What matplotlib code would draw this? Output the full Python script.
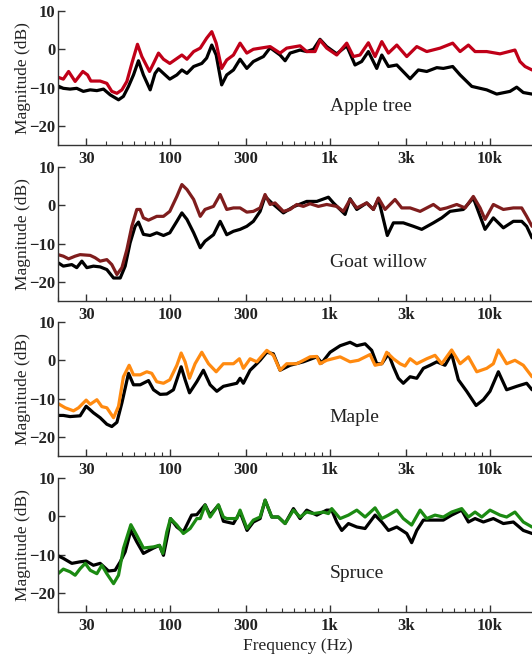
import matplotlib
matplotlib.use("Agg")
import matplotlib.pyplot as plt
from matplotlib.ticker import FixedLocator, LogLocator, NullFormatter

plt.rcParams["font.family"] = ["Liberation Serif", "DejaVu Serif"]

# --- Apple tree ---
apple_f = [20, 21.6, 23.3, 25.6, 28.6, 30.6, 32.1, 36.7, 40.4, 43.4, 46.7, 50.2, 53.9, 57.9,
           62.8, 66.9, 74.7, 79.1, 85, 91.3, 100, 119, 128, 141, 155, 170, 183, 195, 211,
           227, 250, 275, 303, 333, 424, 489, 538, 652, 718, 809, 869, 957, 1106, 1277,
           1406, 1546, 1744, 1920, 2115, 2328, 2625, 3030, 3500, 4040, 4900, 5870, 6530,
           7360, 8100, 9580, 11600, 14380, 15460, 16630, 18390, 20000]
apple_db = [-7.3, -7.8, -5.8, -8.4, -5.8, -6.7, -8.3, -8.3, -8.9, -11.0, -11.5, -10.6, -8.4, -3.7,
            1.3, -1.9, -5.8, -3.7, -1.0, -2.6, -3.7, -1.5, -2.6, -0.6, 0.3, 2.9, 4.6, 1.6, -5.0,
            -2.8, -1.5, 1.6, -1.0, 0.0, 0.7, -1.0, 0.3, 0.9, -0.6, -0.6, 2.4, 0.3, -1.5, 1.6,
            -1.9, -1.5, 1.7, -1.9, 2.0, -1.0, 1.1, -1.9, 0.7, -0.6, 0.3, 1.6, -0.6,
            1.1, -0.6, -0.6, -1.2, -0.2, -3.2, -4.5, -5.4, -5.5]
apple_ref_f = [20, 21.6, 23.8, 26.2, 28.8, 31.8, 35, 38.5, 42.4, 47.8, 51.3, 55.2, 59.3, 63.7,
               68.4, 75.4, 80.9, 85, 93.5, 100, 110.7, 119, 128, 141, 158.5, 170, 183, 195,
               211, 227, 250, 275, 303, 333, 385, 424, 489, 526, 565, 652, 718, 791, 869, 957,
               1106, 1277, 1439, 1583, 1744, 1967, 2115, 2328, 2625, 3180, 3580, 4040, 4670,
               5130, 5870, 6530, 7730, 9580, 11060, 13390, 14750, 16220, 18390, 20000]
apple_ref_db = [-9.6, -10.2, -10.4, -10.2, -11.0, -10.6, -10.8, -10.4, -11.9, -13.2, -12.3, -9.7, -6.7, -3.0,
                -6.7, -10.6, -6.3, -5.1, -6.7, -7.8, -6.7, -5.4, -6.3, -4.5, -3.7, -2.3, 1.1, -1.5,
                -9.3, -6.7, -5.4, -2.6, -5.0, -3.2, -1.9, 0.4, -1.5, -3.0, -1.0, -0.2, -0.6, 0.0, 2.6, 0.7,
                -1.2, 0.9, -4.1, -3.2, -0.6, -5.0, -1.5, -4.5, -4.1, -7.7, -5.4, -5.8, -4.8,
                -5.0, -4.5, -6.7, -9.7, -10.6, -11.7, -11.0, -9.9, -11.3, -11.7, -11.8]

# --- Goat willow ---
willow_f = [20, 21.6, 23.3, 25.6, 27.5, 31.8, 34.1, 36.7, 40.4, 43.4, 46.7, 50.2, 53.9, 57.9,
            62.2, 65.2, 68.4, 73.6, 82.9, 91.3, 100, 110.7, 119, 128, 141, 155, 166, 187.6,
            206.5, 227, 250, 275, 303, 333, 367, 394, 424, 455, 513, 565, 622, 684, 753, 849,
            957, 1106, 1217, 1340, 1476, 1702, 1875, 2015, 2218, 2559, 2818, 3180, 3673, 4446,
            4900, 5383, 6222, 7015, 7900, 8710, 9350, 10540, 12170, 14060, 15850, 17020, 18390, 20000]
willow_db = [-12.9, -13.3, -14.0, -13.3, -12.9, -13.1, -13.7, -14.6, -14.2, -15.5, -18.1, -16.3, -11.6, -5.5,
             -1.1, -1.1, -3.3, -3.9, -2.9, -2.9, -1.6, 2.3, 5.4, 4.1, 1.5, -2.9, -1.1, -0.3,
             2.8, -1.1, -0.7, -0.7, -1.8, -1.6, -0.7, 2.8, 0.2, 0.6, -1.6, -1.1, 0.2, -0.3, 0.4, -0.3,
             0.2, -0.3, -1.6, 1.5, -0.7, 0.6, -1.1, 1.9, -1.1, 1.5, -0.7, -0.7, -1.6, 0.2,
             -1.1, -0.7, 0.2, -0.7, 2.3, -0.7, -3.7, 0.2, -1.1, -0.7, -0.7, -2.9, -5.5, -6.0]
willow_ref_f = [20, 21.6, 24.4, 26.2, 28.2, 30.3, 33.3, 36.7, 40.4, 44.5, 49, 52.6, 56.5, 60.7,
                63.7, 68.4, 75.3, 82.9, 91.3, 100, 110.7, 119, 128, 141, 155, 166, 187.6, 206.5,
                227, 250, 275, 303, 333, 367, 394, 434, 513, 593, 718, 830, 981, 1054, 1247,
                1340, 1476, 1702, 1875, 2015, 2290, 2500, 2884, 3334, 3758, 4446, 5013, 5650,
                6842, 7900, 9350, 10540, 12170, 14060, 15850, 17020, 18390, 20000]
willow_ref_db = [-15.0, -15.9, -15.5, -16.3, -14.6, -16.3, -15.9, -16.1, -16.8, -19.0, -19.0, -15.9, -9.8, -5.5,
                 -4.4, -7.6, -7.9, -7.2, -7.9, -7.2, -4.2, -2.0, -3.7, -7.2, -11.1, -9.4, -7.7, -4.2,
                 -7.7, -6.8, -6.3, -5.5, -4.2, -1.6, 2.3, 0.6, -2.0, -0.4, 1.0, 1.0, 2.1, 0.6, -2.4,
                 1.7, -1.1, 0.6, -1.1, 1.7, -7.9, -4.6, -4.6, -5.5, -6.3, -4.6, -3.3, -1.6,
                 -1.1, 1.9, -6.3, -3.3, -5.9, -4.2, -4.2, -5.5, -8.5, -9.0]

# --- Maple ---
maple_f = [20, 22.2, 25, 26.9, 30, 31.8, 35, 37.6, 40.4, 44.5, 47.8, 51.3, 55.7, 59.3, 65.3,
           71.8, 77.1, 82.9, 91.3, 100, 110.7, 117.8, 124.7, 132.8, 143.9, 158.5, 174.6, 195,
           216.3, 250, 272.3, 288.4, 317.7, 349.9, 404, 444, 489, 538, 622, 753, 830, 869,
           957, 1161, 1340, 1511, 1786, 1920, 2115, 2270, 2500, 2752, 2956, 3180, 3500, 4040,
           4550, 5013, 5782, 6530, 7360, 8300, 9580, 10540, 11330, 12760, 14380, 16220, 18390, 20000]
maple_db = [-11.3, -12.4, -13.2, -12.4, -10.4, -11.5, -10.3, -12.1, -12.4, -15.0, -12.0, -4.3, -1.3, -3.8, -3.8,
            -3.0, -3.4, -5.6, -6.0, -5.1, -1.3, 1.9, -0.4, -4.7, -0.9, 2.1, -0.9, -3.0,
            -0.9, -0.9, 0.4, -2.1, 0.4, -0.4, 2.6, 1.3, -2.6, -0.9, -0.9, 0.9, 1.0, -0.9,
            0.0, 0.9, -0.4, 0.0, 1.5, -1.3, -0.9, 2.1, 0.4, -0.9, -1.5, 0.4, -0.9, 0.4,
            1.3, -0.9, 2.7, -0.9, 0.9, -3.0, -2.1, -0.9, 2.7, -0.9, 0.0, -1.3, -4.3, -4.6]
maple_ref_f = [20, 21.6, 23.8, 27.5, 30, 33.3, 36.7, 40.4, 43.4, 46.7, 50.2, 55.2, 59.3, 65.3,
               73.6, 79.1, 87, 95.8, 105.4, 117.8, 124.7, 132.8, 147.5, 162.2, 178.7, 196.8,
               216.3, 238.2, 262.4, 275, 288.4, 317.7, 349.9, 367, 404, 444, 489, 565, 684, 830,
               891, 1005, 1161, 1340, 1476, 1663, 1829, 1967, 2115, 2328, 2500, 2687, 2884,
               3180, 3500, 3848, 4236, 4670, 5256, 5782, 6370, 7180, 8220, 9130, 10040, 11330,
               12760, 14750, 17020, 18390, 20000]
maple_ref_db = [-14.4, -14.4, -14.7, -14.5, -12.0, -13.7, -15.0, -16.7, -17.3, -16.2, -11.1, -3.4, -6.4, -6.4,
                -5.3, -7.7, -8.9, -8.8, -7.7, -1.7, -5.1, -8.5, -5.6, -2.6, -6.4, -8.1,
                -6.8, -6.4, -6.0, -4.7, -6.0, -2.6, -0.9, 0.0, 2.1, 1.7, -2.6, -1.3, -0.4, 0.9,
                -0.7, 2.1, 3.8, 4.7, 3.8, 4.3, 2.6, -0.9, -0.9, 1.7, -1.7, -4.7, -6.0,
                -4.3, -4.7, -2.1, -1.3, -0.4, -1.3, 1.7, -5.1, -8.1, -11.8, -10.3, -8.1, -3.0,
                -7.7, -6.8, -6.0, -7.7, -8.0]

# --- Spruce ---
spruce_f = [20, 21.6, 23.8, 25.6, 27.5, 29.6, 31.8, 35, 37.6, 40.4, 44.5, 47.8, 51.3, 57.1,
            62.2, 68.4, 79.1, 86.1, 90.4, 95.8, 101, 110.7, 121.6, 134, 147.5, 155, 166.3,
            178.7, 201.4, 216.3, 227, 262.4, 275, 304, 333, 367, 394.5, 434, 477, 526, 593,
            652, 718, 791, 912, 981, 1029, 1161, 1309, 1476, 1663, 1920, 2115, 2328, 2625,
            2884, 3251, 3673, 4040, 4550, 5130, 5782, 6683, 7360, 8100, 8920, 10040, 11600,
            12760, 14380, 16220, 18390, 20000]
spruce_db = [-15.0, -13.8, -14.5, -15.4, -13.7, -12.3, -14.1, -15.0, -12.8, -15.0, -17.6, -15.4, -8.4, -2.2,
             -5.0, -8.3, -8.0, -7.6, -9.7, -4.1, -0.6, -2.3, -4.5, -3.2, -0.6, -0.6, 2.9,
             -0.2, 3.0, -0.2, -0.6, -0.6, 1.6, -3.2, -1.0, -0.2, 4.2, -0.2, -0.2, -1.9, 1.6,
             -0.2, 1.1, 0.7, 1.1, 0.7, 2.0, -0.6, 0.3, 1.6, -0.2, 2.2, -0.6, 0.3, 1.6,
             -0.6, -2.3, 1.6, -0.6, 0.3, -0.2, 1.1, 2.0, -0.2, 1.1, -0.2, 1.6, 0.3,
             -0.2, 1.1, -1.5, -2.8, -3.0]
spruce_ref_f = [20, 21.6, 24.4, 27.5, 30, 33.3, 36.7, 41.4, 45.5, 49, 52.6, 57.1, 62.2, 68.4,
                79.1, 86.1, 91.3, 98.2, 101, 110.7, 121.6, 137, 147.5, 166.3, 178.7, 201.4,
                216.3, 250, 275, 304, 333, 367, 394.5, 434, 477, 526, 593, 652, 718, 830, 957,
                1029, 1106, 1189, 1309, 1476, 1663, 1920, 2115, 2328, 2625, 3030, 3251, 3500,
                3848, 4446, 5130, 5782, 6683, 7360, 8100, 9130, 10540, 12170, 14060, 16220,
                18390, 20000]
spruce_ref_db = [-10.3, -11.0, -12.3, -11.9, -11.7, -12.8, -12.3, -14.3, -14.1, -11.9, -9.3, -3.7, -6.7, -9.7,
                 -8.3, -7.6, -10.2, -3.7, -0.6, -2.8, -4.1, 0.3, 0.4, 3.0, 0.3, 2.9,
                 -1.3, -1.9, 1.1, -3.7, -1.5, -0.6, 4.2, -0.2, -0.2, -1.9, 2.0, -0.6, 1.6, 0.3, 1.6,
                 1.6, -1.5, -3.7, -1.9, -2.8, -3.2, 0.3, -1.5, -3.7, -2.8, -4.5, -6.9, -3.7,
                 -1.0, -1.0, -1.0, 0.3, 1.6, -1.5, -0.6, -1.5, -0.6, -1.9, -1.5, -3.7,
                 -4.5, -4.6]

names = ["Apple tree", "Goat willow", "Maple", "Spruce"]
colors = ["#c00018", "#7f1d1d", "#ff8a10", "#1b8a12"]
xticks = [30, 100, 300, 1000, 3000, 10000]
xticklabels = ["30", "100", "300", "1k", "3k", "10k"]
yticks = [-20, -10, 0, 10]

series = [(apple_ref_f, apple_ref_db, apple_f, apple_db),
          (willow_ref_f, willow_ref_db, willow_f, willow_db),
          (maple_ref_f, maple_ref_db, maple_f, maple_db),
          (spruce_ref_f, spruce_ref_db, spruce_f, spruce_db)]

fig = plt.figure(figsize=(5.32, 6.57), dpi=100)
bottoms = [0.7793, 0.5419, 0.3059, 0.0685]
txt = "#222222"

for i, (rf, rd, f, d) in enumerate(series):
    ax = fig.add_axes([0.109, bottoms[i], 0.902, 0.204])
    ax.plot(rf, rd, color="black", lw=2.3, solid_joinstyle="round")
    ax.plot(f, d, color=colors[i], lw=2.3, solid_joinstyle="round")
    ax.set_xscale("log")
    ax.set_xlim(20, 20000)
    ax.set_ylim(-25, 10)
    ax.xaxis.set_major_locator(FixedLocator(xticks))
    ax.set_xticklabels(xticklabels)
    ax.xaxis.set_minor_locator(LogLocator(base=10, subs=range(2, 10)))
    ax.xaxis.set_minor_formatter(NullFormatter())
    ax.set_yticks(yticks)
    for s in ["top", "right"]:
        ax.spines[s].set_visible(False)
    for s in ["left", "bottom"]:
        ax.spines[s].set_color("#333333")
        ax.spines[s].set_linewidth(1.0)
    ax.tick_params(which="major", direction="in", length=5, width=1, color="#333333",
                   labelsize=12, labelcolor=txt)
    ax.tick_params(which="minor", direction="in", length=3, width=0.8, color="#333333")
    ax.tick_params(axis="y", pad=2)
    ax.tick_params(axis="x", pad=4)
    for lab in ax.get_xticklabels() + ax.get_yticklabels():
        lab.set_fontweight("bold")
    ax.set_ylabel("Magnitude (dB)", fontsize=12.5, color=txt, va="center")
    ax.yaxis.set_label_coords(-0.073, 0.5)
    ax.text(1000, -15, names[i], fontsize=14, color=txt, ha="left", va="center")
    ax.patch.set_visible(False)
    if i == 3:
        ax.set_xlabel("Frequency (Hz)", fontsize=12.5, color=txt, labelpad=3)

fig.savefig("out.png", dpi=100)
